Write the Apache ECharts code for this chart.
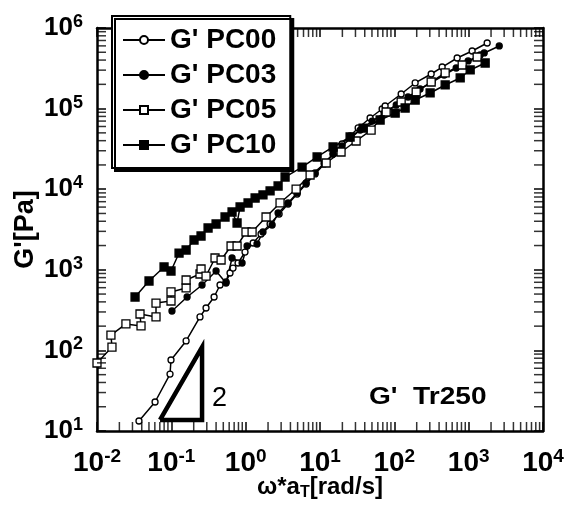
<!DOCTYPE html>
<html>
<head>
<meta charset="utf-8">
<script src="https://cdn.jsdelivr.net/npm/echarts@6/dist/echarts.min.js"></script>
<style>
html,body{margin:0;padding:0;background:#fff;}
#chart{width:568px;height:508px;}
</style>
</head>
<body>
<div id="chart"></div>
<script>
// ---- data ----
const seriesNames = ["G' PC00", "G' PC03", "G' PC05", "G' PC10"];

const pc00X = [0.0367,0.0604,0.096,0.099,0.158,0.243,0.293,0.376,0.452,0.544,0.616,0.676,0.79,0.98,1.26,1.61,2.13,2.82,3.72,4.92,6.50,8.59,11.4,15.0,19.8,25.4,32.6,47.2,68.5,75.2,123.5,190.6,313,440,700,1114,1774];
const pc00Y = [13.3,22.9,50.9,76,131,260,336,460,648,706,912,1052,1214,1660,2150,2780,3700,4920,6550,8710,11600,15450,20560,27350,36400,45800,57500,76400,98900,107700,151700,208000,268700,328000,424500,518700,651800];

const pc03X = [0.102,0.163,0.259,0.40,0.545,0.656,0.895,1.045,1.42,1.71,2.27,2.73,3.72,4.92,6.50,8.59,11.4,15.0,19.8,26.2,34.7,50.3,72.9,106,153,222,323,468,679,984,1429,1618,2578];
const pc03Y = [308,460,648,966,686,1400,1214,1973,2090,2945,3597,5070,6750,8980,11950,15900,21150,27350,34360,43150,54200,70100,88100,110900,139300,175000,213800,261300,319000,390000,462500,490000,598500];

const pc05X = [0.01,0.0159,0.0154,0.0245,0.0391,0.0379,0.0622,0.0622,0.099,0.099,0.158,0.158,0.243,0.251,0.293,0.387,0.467,0.636,0.766,1.01,1.22,1.88,2.90,4.77,7.36,12.1,19.2,30.6,48.7,77.6,123.5,196.8,313,483,818,1301];
const pc05Y = [69.8,110,155,213,201,283,260,387,410,531,595,747,887,1023,837,1400,1324,1973,1973,2945,2945,4520,6750,10050,15000,21150,28950,39630,54200,90800,120800,160700,213800,276700,347600,436700];

const pc10X = [0.0325,0.0501,0.0798,0.099,0.127,0.158,0.202,0.251,0.312,0.40,0.528,0.656,0.766,0.841,1.077,1.34,1.71,2.13,2.73,3.39,5.74,9.14,15.0,25.4,38.0,64.4,102.6,139.7,190.6,303,483,769,1048,1667];
const pc10Y = [460,726,1083,966,1614,1761,2344,2626,3300,3700,4520,5210,3810,6010,6740,7780,8480,9510,10960,14160,18840,25100,33400,44450,57400,72200,88100,101700,127900,156300,196400,239900,301500,368000];

// slope triangle vertices (data coordinates)
const triX = [0.0705, 0.259, 0.259, 0.0705];
const triY = [13.7, 13.7, 110, 13.7];

const xTickExp = [-2,-1,0,1,2,3,4];
const yTickExp = [1,2,3,4,5,6];

const FONT = "Liberation Sans, Arial, sans-serif";
const xMin = 0.01, xMax = 10000, yMin = 10, yMax = 1e6;

function pairs(xs, ys){ return xs.map((x,i)=>[x, ys[i]]); }

// minor tick positions (2..9 x 10^k) for the log axes
const xMinorB = [], xMinorT = [];
for (let e = xTickExp[0]; e < xTickExp[xTickExp.length-1]; e++)
  for (let m = 2; m <= 9; m++) { xMinorB.push([m*Math.pow(10,e), yMin]); xMinorT.push([m*Math.pow(10,e), yMax]); }
const yMinorL = [], yMinorR = [];
for (let e = yTickExp[0]; e < yTickExp[yTickExp.length-1]; e++)
  for (let m = 2; m <= 9; m++) { yMinorL.push([xMin, m*Math.pow(10,e)]); yMinorR.push([xMax, m*Math.pow(10,e)]); }

function supLabel(v){
  const e = Math.round(Math.log10(v));
  return '{b|10}{s|' + e + '}';
}
const yRich = {
  b: {fontSize: 26, fontWeight: 'bold', fontFamily: FONT, color: '#000', lineHeight: 30},
  s: {fontSize: 18, fontWeight: 'bold', fontFamily: FONT, color: '#000', verticalAlign: 'top', lineHeight: 30, padding: [0,0,14,0]}
};
const xRich = {
  b: {fontSize: 28, fontWeight: 'bold', fontFamily: FONT, color: '#000', lineHeight: 32},
  s: {fontSize: 19, fontWeight: 'bold', fontFamily: FONT, color: '#000', verticalAlign: 'top', lineHeight: 32, padding: [0,0,14,0]}
};

const axisLine = {show: true, lineStyle: {color: '#000', width: 2.5}};
const axisTick = {show: true, inside: true, length: 9, lineStyle: {color: '#000', width: 1.5}};

function lineSeries(name, data, symbol, size, fill){
  return {
    name: name, type: 'line', data: data, symbol: symbol, symbolSize: size,
    showAllSymbol: true,
    lineStyle: {color: '#000', width: 1.5},
    itemStyle: {color: fill, borderColor: '#000', borderWidth: 1.3},
    emphasis: {disabled: true}, animation: false, z: 3
  };
}
function tickSeries(data, size, offset){
  return {type: 'scatter', data: data, symbol: 'rect', symbolSize: size, symbolOffset: offset,
    itemStyle: {color: '#000'}, silent: true, clip: false, z: 6, animation: false,
    emphasis: {disabled: true}};
}

const chart = echarts.init(document.getElementById('chart'), null, {renderer: 'canvas'});
chart.setOption({
  animation: false,
  backgroundColor: '#fff',
  grid: {left: 97, right: 25, top: 28, bottom: 77, containLabel: false, outerBoundsMode: 'none'},
  xAxis: [
    {type: 'log', logBase: 10, min: xMin, max: xMax, position: 'bottom',
     axisLine: axisLine, axisTick: axisTick, splitLine: {show: false},
     axisLabel: {formatter: supLabel, rich: xRich, margin: 16},
     name: '{n|ω*a}{t|T}{n|[rad/s]}', nameLocation: 'middle', nameGap: 42, nameMoveOverlap: false,
     nameTextStyle: {rich: {
       n: {fontSize: 24, fontWeight: 'bold', fontFamily: FONT, color: '#000', lineHeight: 28},
       t: {fontSize: 16, fontWeight: 'bold', fontFamily: FONT, color: '#000', verticalAlign: 'bottom', lineHeight: 28, padding: [12,0,0,0]}
     }}},
    {type: 'log', logBase: 10, min: xMin, max: xMax, position: 'top',
     axisLine: axisLine, axisTick: axisTick, splitLine: {show: false}, axisLabel: {show: false}}
  ],
  yAxis: [
    {type: 'log', logBase: 10, min: yMin, max: yMax, position: 'left',
     axisLine: axisLine, axisTick: axisTick, splitLine: {show: false},
     axisLabel: {formatter: supLabel, rich: yRich, margin: 14},
     name: "G'[Pa]", nameLocation: 'middle', nameGap: 58, nameRotate: 90, nameMoveOverlap: false,
     nameTextStyle: {fontSize: 27, fontWeight: 'bold', fontFamily: FONT, color: '#000'}},
    {type: 'log', logBase: 10, min: yMin, max: yMax, position: 'right',
     axisLine: axisLine, axisTick: axisTick, splitLine: {show: false}, axisLabel: {show: false}}
  ],
  legend: {
    data: seriesNames, z: 20,
    orient: 'vertical', left: 112, top: 16,
    padding: [10, 14, 9, 10], itemGap: 7,
    itemWidth: 42, itemHeight: 10,
    backgroundColor: '#fff', borderColor: '#000', borderWidth: 2,
    shadowColor: '#000', shadowOffsetX: 3, shadowOffsetY: 3, shadowBlur: 0,
    textStyle: {fontSize: 28, fontWeight: 'bold', fontFamily: FONT, color: '#000', lineHeight: 27},
    selectedMode: false
  },
  graphic: [
    {type: 'text', left: 212, top: 385, style: {text: '2', font: 'normal 27px ' + FONT, fill: '#000'}, z: 10},
    {type: 'text', left: 369, top: 385, scaleX: 1.17, style: {text: "G'  Tr250", font: 'bold 24px ' + FONT, fill: '#000'}, z: 10}
  ],
  series: [
    lineSeries(seriesNames[0], pairs(pc00X, pc00Y), 'circle', 6, '#fff'),
    lineSeries(seriesNames[1], pairs(pc03X, pc03Y), 'circle', 6, '#000'),
    lineSeries(seriesNames[2], pairs(pc05X, pc05Y), 'rect', 8, '#fff'),
    lineSeries(seriesNames[3], pairs(pc10X, pc10Y), 'rect', 8, '#000'),
    {type: 'line', data: pairs(triX, triY), symbol: 'none', silent: true,
     lineStyle: {color: '#000', width: 4.5, join: 'miter'}, z: 4, animation: false},
    tickSeries(xMinorB, [1.5, 9], [0, -4.5]),
    tickSeries(xMinorT, [1.5, 9], [0, 4.5]),
    tickSeries(yMinorL, [9, 1.5], [4.5, 0]),
    tickSeries(yMinorR, [9, 1.5], [-4.5, 0])
  ]
});
</script>
</body>
</html>
